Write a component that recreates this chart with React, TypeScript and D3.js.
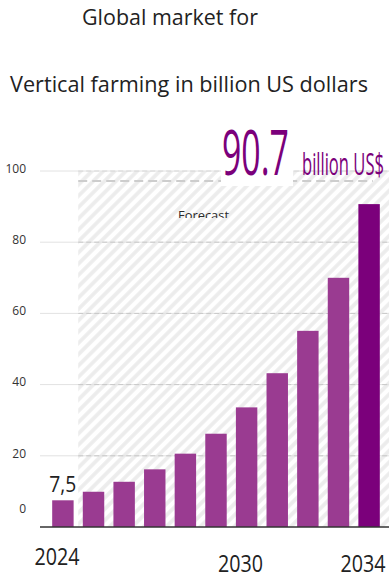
import React, { useEffect, useRef } from "react";
import * as d3 from "d3";

const years = ["2024","2025","2026","2027","2028","2029","2030","2031","2032","2033","2034"];
const values = [7.5, 9.9, 12.7, 16.2, 20.6, 26.2, 33.6, 43.2, 55.1, 70.0, 90.7];
const yTicks = [0, 20, 40, 60, 80, 100];
const shownYears = ["2024", "2030", "2034"];
const titleLines = ["Global market for", "Vertical farming in billion US dollars"];
const highlightValue = "90.7";
const highlightUnit = "billion US$";
const firstLabel = "7,5";
const forecastLabel = "Forecast";
const markerLine = 97.2;

const W = 389, H = 573;
const FONT = "'Open Sans', 'DejaVu Sans', sans-serif";
const BAR = "#9a3b91";
const BAR_LAST = "#7b007b";

function fitText(g: d3.Selection<SVGGElement, unknown, null, undefined>, px: number, py: number, width: number) {
  const t = g.select<SVGTextElement>("text");
  const natural = t.node()!.getComputedTextLength() || width;
  g.attr("transform", `translate(${px},${py}) scale(${width / natural},1)`);
}

export default function App() {
  const ref = useRef<SVGSVGElement | null>(null);
  useEffect(() => {
    document.body.style.margin = "0";
    const svg = d3.select(ref.current!);
    svg.selectAll("*").remove();

    const x = d3.scaleBand<string>().domain(years).range([43, 389]).paddingInner(0.3).paddingOuter(0.3);
    const y = d3.scaleLinear().domain([0, 100]).range([527, 171]);
    const step = x.step();
    const hatchX = (x(years[0]) as number) + x.bandwidth() + (step - x.bandwidth()) / 2;

    const defs = svg.append("defs");
    const pat = defs.append("pattern").attr("id", "hatch").attr("patternUnits", "userSpaceOnUse")
      .attr("width", 8).attr("height", 8).attr("patternTransform", "rotate(45)");
    pat.append("rect").attr("width", 8).attr("height", 8).attr("fill", "#ffffff");
    pat.append("line").attr("x1", 2).attr("x2", 2).attr("y1", 0).attr("y2", 8)
      .attr("stroke", "#ececec").attr("stroke-width", 3.6);
    defs.append("clipPath").attr("id", "fclip").append("rect")
      .attr("x", 0).attr("y", 0).attr("width", W).attr("height", 218);

    // Title
    svg.append("text").attr("x", 170).attr("y", 25).attr("text-anchor", "middle")
      .attr("font-family", FONT).attr("font-size", 21).attr("fill", "#222")
      .attr("textLength", 176).attr("lengthAdjust", "spacingAndGlyphs").text(titleLines[0]);
    svg.append("text").attr("x", 189).attr("y", 92).attr("text-anchor", "middle")
      .attr("font-family", FONT).attr("font-size", 21).attr("fill", "#222")
      .attr("textLength", 358).attr("lengthAdjust", "spacingAndGlyphs").text(titleLines[1]);

    // hatched forecast area
    svg.append("rect").attr("x", hatchX).attr("y", y(100)).attr("width", W - hatchX)
      .attr("height", y(0) - y(100)).attr("fill", "url(#hatch)");

    // gridlines
    const grid = yTicks.filter(t => t > 0);
    svg.append("g").selectAll("line").data(grid).join("line")
      .attr("x1", 40).attr("x2", W).attr("y1", d => y(d)).attr("y2", d => y(d))
      .attr("stroke", "#e2e2e2").attr("stroke-width", 1);
    svg.append("g").selectAll("line").data(grid).join("line")
      .attr("x1", hatchX).attr("x2", W).attr("y1", d => y(d)).attr("y2", d => y(d))
      .attr("stroke", d => d === 100 ? "#d8d8d8" : "#c8c8c8").attr("stroke-width", 1)
      .attr("stroke-dasharray", "5,3");

    // marker dashed line
    svg.append("line").attr("x1", hatchX).attr("x2", 373).attr("y1", y(markerLine)).attr("y2", y(markerLine))
      .attr("stroke", "#cdcdcd").attr("stroke-width", 2).attr("stroke-dasharray", "9,5");

    // Forecast label (clipped)
    svg.append("text").attr("x", 178).attr("y", 220).attr("font-family", FONT).attr("font-size", 13)
      .attr("fill", "#2a2a2a").attr("textLength", 51).attr("lengthAdjust", "spacingAndGlyphs")
      .attr("clip-path", "url(#fclip)").text(forecastLabel);

    // y axis labels
    const yAxis = d3.axisLeft(y).tickValues(yTicks).tickSize(0).tickPadding(0).tickFormat(d3.format("d"));
    const ya = svg.append("g").attr("transform", "translate(26,0)").call(yAxis);
    ya.select(".domain").remove();
    ya.selectAll("text").attr("font-family", FONT).attr("font-size", 12).attr("fill", "#333")
      .attr("dy", (d: any) => d === 0 ? "-1.2em" : "0.1em");

    // bars
    svg.append("g").selectAll("rect").data(values).join("rect")
      .attr("x", (_, i) => x(years[i]) as number).attr("width", x.bandwidth())
      .attr("y", d => y(d)).attr("height", d => y(0) - y(d))
      .attr("fill", (_, i) => i === values.length - 1 ? BAR_LAST : BAR);

    // baseline
    svg.append("line").attr("x1", 40).attr("x2", W).attr("y1", y(0)).attr("y2", y(0))
      .attr("stroke", "#333").attr("stroke-width", 1.5);

    // first value label
    svg.append("text").attr("x", (x(years[0]) as number) - 3).attr("y", 492)
      .attr("font-family", FONT).attr("font-size", 21).attr("fill", "#222")
      .attr("textLength", 27).attr("lengthAdjust", "spacingAndGlyphs").text(firstLabel);

    // highlight
    svg.append("rect").attr("x", 221).attr("y", 124).attr("width", 72).attr("height", 62).attr("fill", "#fff");
    const gv = svg.append("g");
    gv.append("text").attr("x", 0).attr("y", 0).attr("font-family", FONT).attr("font-size", 62)
      .attr("fill", BAR_LAST).text(highlightValue);
    fitText(gv, 222, 175, 67);
    const gu = svg.append("g");
    gu.append("text").attr("x", 0).attr("y", 0).attr("font-family", FONT).attr("font-size", 31)
      .attr("fill", BAR_LAST).text(highlightUnit);
    fitText(gu, 302, 175, 82);

    // x labels
    svg.append("g").selectAll("text").data(shownYears).join("text")
      .attr("x", d => (x(d) as number) + x.bandwidth() / 2 - 6)
      .attr("y", d => d === years[0] ? 565 : 572)
      .attr("text-anchor", "middle").attr("font-family", FONT).attr("font-size", 23).attr("fill", "#222")
      .attr("textLength", 45).attr("lengthAdjust", "spacingAndGlyphs").text(d => d);
  }, []);
  return <svg ref={ref} width={W} height={H} style={{ display: "block" }} />;
}
